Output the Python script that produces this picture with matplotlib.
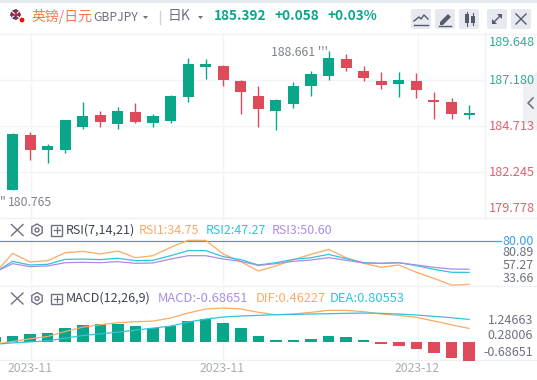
import matplotlib
matplotlib.use('Agg')
import matplotlib.pyplot as plt
from matplotlib.patches import Circle, FancyBboxPatch, Polygon, RegularPolygon, Rectangle

plt.rcParams['font.family'] = ['Noto Sans CJK SC', 'DejaVu Sans']

# candles, index -1 is the one cut off at the left edge
opens = [181.28, 181.28, 184.23, 183.425, 183.425, 184.659, 185.303, 184.82, 185.464, 184.873, 184.981, 186.268,
         187.877, 187.931, 187.126, 186.322, 185.517, 185.893, 186.858, 187.395, 188.306, 187.663, 187.126, 186.965,
         187.126, 186.107, 186.0, 185.303]
closes = [181.387, 184.283, 183.425, 183.64, 185.034, 185.249, 184.927, 185.517, 184.927, 185.249, 186.322, 188.038,
          188.038, 187.18, 186.536, 185.624, 186.107, 186.858, 187.502, 188.36, 187.824, 187.287, 186.912, 187.18,
          186.644, 186.0, 185.356, 185.41]
highs = [181.387, 184.337, 184.391, 183.747, 185.034, 186.0, 185.517, 185.732, 185.946, 185.356, 186.375, 188.36,
         188.306, 187.985, 187.18, 186.858, 186.161, 187.073, 187.663, 188.736, 188.575, 187.931, 187.609, 187.609,
         187.555, 186.536, 186.214, 185.839]
lows = [181.28, 181.28, 182.889, 182.728, 183.264, 184.552, 184.659, 184.552, 184.873, 184.659, 184.873, 186.0,
        187.234, 186.858, 185.356, 184.659, 184.498, 185.678, 186.322, 187.18, 187.663, 187.126, 186.697, 186.268,
        186.214, 185.088, 185.088, 185.088]

rsi1 = [46.0, 67.2, 58.1, 59.5, 67.8, 69.2, 66.5, 69.6, 62.6, 64.7, 73.4, 80.7, 80.7, 66.5, 58.5, 48.7, 54.0, 60.6,
        66.1, 71.3, 62.6, 56.7, 52.6, 55.0, 47.4, 41.1, 34.0, 34.75]
rsi2 = [47.0, 58.8, 55.0, 55.7, 60.9, 61.2, 60.6, 62.0, 59.5, 59.9, 64.7, 70.0, 70.0, 63.7, 60.6, 55.0, 57.4, 60.9,
        62.6, 66.1, 61.6, 57.4, 56.7, 57.4, 54.3, 50.5, 47.4, 47.27]
rsi3 = [47.5, 56.4, 53.3, 54.0, 57.4, 57.8, 57.4, 58.5, 56.7, 57.1, 61.2, 64.7, 64.7, 61.2, 58.8, 54.6, 56.4, 58.8,
        60.2, 62.6, 59.9, 57.1, 56.7, 57.4, 55.0, 52.6, 50.8, 50.6]

dif = [-0.069, 0.031, 0.131, 0.218, 0.405, 0.567, 0.654, 0.729, 0.767, 0.792, 0.904, 1.091, 1.24, 1.278, 1.24, 1.116,
       1.028, 1.053, 1.116, 1.19, 1.19, 1.141, 1.053, 1.004, 0.929, 0.792, 0.654, 0.517]
dea = [-0.069, -0.019, 0.019, 0.056, 0.156, 0.255, 0.318, 0.38, 0.455, 0.53, 0.604, 0.754, 0.866, 0.941, 0.979, 1.004,
       1.028, 1.041, 1.053, 1.066, 1.078, 1.091, 1.078, 1.053, 1.016, 0.966, 0.916, 0.854]
macd = [0.2, 0.243, 0.318, 0.355, 0.542, 0.655, 0.692, 0.692, 0.617, 0.542, 0.592, 0.804, 0.879, 0.729, 0.542, 0.243,
        0.094, 0.094, 0.131, 0.243, 0.206, 0.094, -0.056, -0.131, -0.243, -0.393, -0.58, -0.6865]

xs = list(range(-1, 27))
price_ticks = ['189.648', '187.180', '184.713', '182.245', '179.778']
price_tick_y = [42, 81, 127, 173, 209]
rsi_ticks = ['80.89', '57.27', '33.66']
macd_ticks = ['1.24663', '0.28006', '-0.68651']
date_labels = ['2023-11', '2023-11', '2023-12']

GREEN = '#0aa68a'
RED = '#dd4b5b'
ORANGE = '#f9aa66'
CYAN = '#30c3de'
PURPLE = '#a98ee2'
GRID = '#f3f4f8'
W, H = 537, 380


def panel(top, bottom, right=485):
    ax = fig.add_axes([0, 1 - bottom / H, right / W, (bottom - top) / H])
    ax.set_xlim(-0.712, (right - 12.5) / 17.56)
    ax.axis('off')
    ax.patch.set_alpha(0)
    return ax


fig = plt.figure(figsize=(W / 100, H / 100), dpi=100, facecolor='white')

# overlay in pixels for the page furniture
ov = fig.add_axes([0, 0, 1, 1], zorder=5)
ov.set_xlim(0, W)
ov.set_ylim(H, 0)
ov.axis('off')
ov.patch.set_alpha(0)

bg = fig.add_axes([0, 0, 1, 1], zorder=0)
bg.set_xlim(0, W)
bg.set_ylim(H, 0)
bg.axis('off')
bg.add_patch(Rectangle((0, 0), W, 2.5, color='#e6e9ef', lw=0))
bg.plot([0, W], [33.5, 33.5], color=GRID, lw=1)
for y in [80, 126, 172]:
    bg.plot([0, 485], [y, y], color=GRID, lw=1)
for y in [218, 286]:
    bg.plot([0, W], [y, y], color='#eef0f4', lw=1)
bg.plot([0, 537], [360, 360], color='#eef0f4', lw=1)
bg.plot([485, 485], [33, 218], color='#eef0f4', lw=1)
for x in [30.5, 222.5, 417.5]:
    bg.plot([x, x], [33, 360], color=GRID, lw=1)

# price panel
ax = panel(33.5, 218)
ax.set_ylim(179.778, 189.648 + 0.05)
ax.set_zorder(2)
for x, o, c, h, l in zip(xs, opens, closes, highs, lows):
    col = GREEN if c >= o else RED
    ax.plot([x, x], [l, h], color=col, lw=1, solid_capstyle='butt')
    ax.bar(x, abs(c - o), bottom=min(o, c), width=0.63, color=col, lw=0)

# rsi panel
ax2 = panel(218, 286)
ax2.set_ylim(33.1, 104)
ax2.set_zorder(2)
ax2.plot([-0.712, 27.8], [80, 80], color='#3a9df2', lw=0.9, clip_on=False)
ax2.plot(xs, rsi1, color=ORANGE, lw=0.9)
ax2.plot(xs, rsi2, color=CYAN, lw=0.9)
ax2.plot(xs, rsi3, color=PURPLE, lw=0.9)

# macd panel
ax3 = panel(286, 360.5)
ax3.set_ylim(-0.673, 2.094)
ax3.set_zorder(2)
ax3.bar(xs, macd, width=0.66, lw=0, color=[GREEN if m >= 0 else RED for m in macd])
ax3.plot(xs, dif, color=ORANGE, lw=0.9)
ax3.plot(xs, dea, color=CYAN, lw=0.9)

# header
ov.add_patch(Circle((15.5, 14.5), 5, color='#2d3a6b', lw=0))
ov.plot([11.5, 19.5], [11, 18], color='#f0e4e6', lw=1)
ov.plot([11.5, 19.5], [18, 11], color='#f0e4e6', lw=1)
ov.plot([15.5, 15.5], [10, 19], color='#c8202f', lw=1.2)
ov.plot([11, 20], [14.5, 14.5], color='#c8202f', lw=1.2)
ov.add_patch(Circle((22, 20), 2.4, color='#f00d0d', lw=0))
ov.text(31, 16, '英镑/日元', color='#f2794b', fontsize=10, va='center')
ov.text(93, 17.5, 'GBPJPY', color='#6d7280', fontsize=8.8, va='center')
ov.add_patch(Polygon([(143, 16), (148, 16), (145.5, 19)], color='#6d7280', lw=0))
ov.plot([159.5, 159.5], [11, 24], color='#cfd3dc', lw=1)
ov.text(168, 16, '日K', color='#6d7280', fontsize=10, va='center')
ov.add_patch(Polygon([(198, 16), (203, 16), (200.5, 19)], color='#6d7280', lw=0))
ov.text(214, 16, '185.392', color=GREEN, fontsize=9.8, weight='bold', va='center')
ov.text(274.5, 16, '+0.058', color=GREEN, fontsize=9.8, weight='bold', va='center')
ov.text(328, 16, '+0.03%', color=GREEN, fontsize=9.8, weight='bold', va='center')

for bx in [411, 435, 459, 487, 511]:
    ov.add_patch(FancyBboxPatch((bx + 2, 11), 16, 16, boxstyle='round,pad=2', color='#e6e9f0', lw=0))
ic = '#55596a'
ov.plot([414, 419, 421, 424, 428], [21, 17, 19, 15, 19], color=ic, lw=1)
ov.plot([414, 428], [24.5, 24.5], color=ic, lw=1)
ov.add_patch(Polygon([(440, 22), (448, 14), (451, 17), (443, 25), (440, 25)], color=ic, lw=0))
ov.plot([439, 451], [26, 26], color=ic, lw=1)
ov.add_patch(Rectangle((465, 14), 3.5, 9, color=ic, lw=0))
ov.add_patch(Rectangle((471, 16), 3.5, 7, color=ic, lw=0))
ov.plot([466.7, 466.7], [12, 26], color=ic, lw=0.8)
ov.plot([472.7, 472.7], [13, 25], color=ic, lw=0.8)
ov.plot([493, 501], [23, 15], color=ic, lw=1)
ov.add_patch(Polygon([(497, 14), (502, 14), (502, 19)], color=ic, lw=0))
ov.add_patch(Polygon([(492, 19), (492, 24), (497, 24)], color=ic, lw=0))
ov.plot([516, 526], [14, 24], color=ic, lw=1)
ov.plot([516, 526], [24, 14], color=ic, lw=1)

# side handle
ov.add_patch(Polygon([(537, 72), (523, 82), (523, 122), (537, 131)], color='#eef0f4', lw=0))
ov.plot([533, 528, 533], [98, 103, 108], color='#70747f', lw=1.2)

# price text
ov.text(271, 53, "188.661 '''", color='#80838f', fontsize=8.8, va='center')
ov.text(0, 202, "''", color='#80838f', fontsize=8.8, va='center')
ov.text(7.5, 202, '180.765', color='#80838f', fontsize=8.8, va='center')
for i, (t, y) in enumerate(zip(price_ticks, price_tick_y)):
    ov.text(489, y, t, color='#2fae97' if i < 2 else '#e0616f', fontsize=9.2, va='center')

# panel headers
for y, name in [(230, 'RSI(7,14,21)'), (298.5, 'MACD(12,26,9)')]:
    ov.plot([11.5, 23], [y - 5.5, y + 5.5], color='#6d7280', lw=1)
    ov.plot([11.5, 23], [y + 5.5, y - 5.5], color='#6d7280', lw=1)
    ov.add_patch(RegularPolygon((37, y), 6, radius=6, fill=False, ec='#6d7280', lw=1))
    ov.add_patch(Circle((37, y), 2, fill=False, ec='#6d7280', lw=1))
    ov.add_patch(Rectangle((51, y - 5), 11, 10.5, fill=False, ec='#6d7280', lw=1))
    ov.plot([53.5, 59.5], [y, y], color='#6d7280', lw=0.9)
    ov.plot([56.5, 56.5], [y - 3, y + 3], color='#6d7280', lw=0.9)
    ov.text(65.5, y, name, color='#3f4352', fontsize=9, va='center')
ov.text(139, 230, 'RSI1:34.75', color=ORANGE, fontsize=9, va='center')
ov.text(206, 230, 'RSI2:47.27', color=CYAN, fontsize=9, va='center')
ov.text(272, 230, 'RSI3:50.60', color=PURPLE, fontsize=9, va='center')
ov.text(158, 298.5, 'MACD:-0.68651', color=PURPLE, fontsize=9.3, va='center')
ov.text(256, 298.5, 'DIF:0.46227', color=ORANGE, fontsize=9.3, va='center')
ov.text(330, 298.5, 'DEA:0.80553', color=CYAN, fontsize=9.3, va='center')

# right labels lower panels
ov.text(502, 241.5, '80.00', color='#3a9df2', fontsize=9, va='center')
for t, y in zip(rsi_ticks, [253, 265.5, 278]):
    ov.text(502.5, y, t, color='#6d7280', fontsize=9, va='center')
for t, y in zip(macd_ticks, [320.5, 335.5, 352]):
    ov.text(533, y, t, color='#6d7280', fontsize=9, va='center', ha='right')

# dates
for t, x in zip(date_labels, [30.5, 222.5, 417.5]):
    ov.text(x, 368, t, color='#a9adb8', fontsize=8.8, va='center', ha='center')

fig.savefig('out.png', dpi=100)
